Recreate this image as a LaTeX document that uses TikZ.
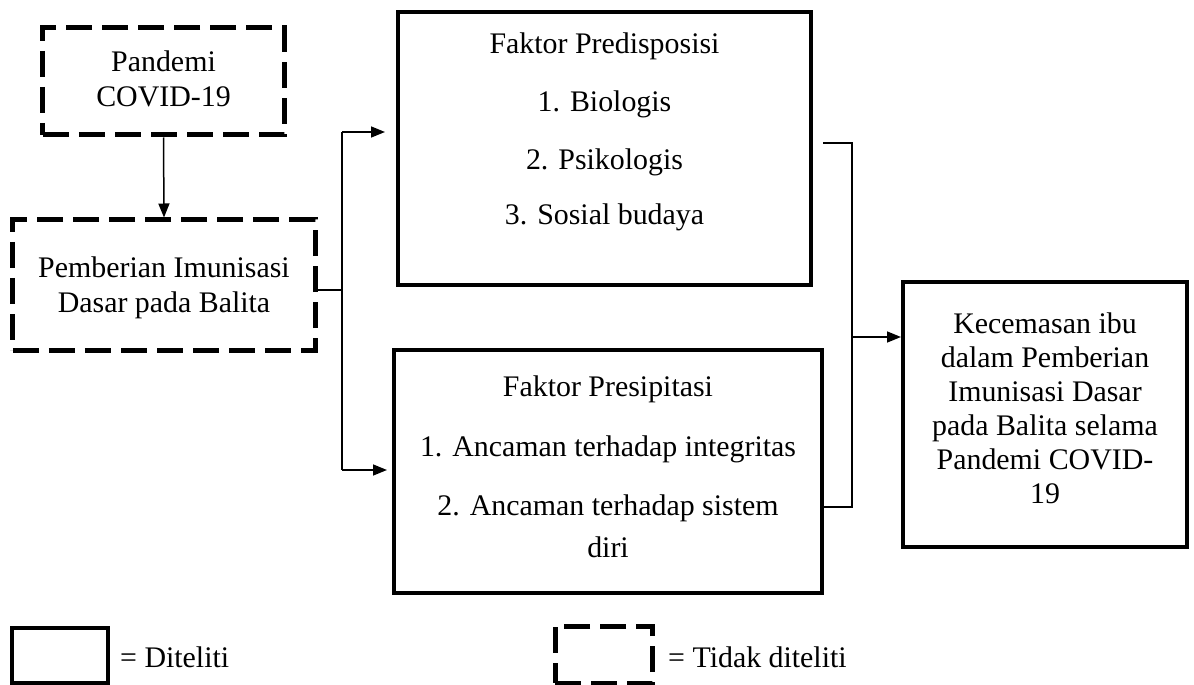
\documentclass[tikz,border=0pt]{standalone}
\usepackage{fontspec}
\setmainfont{Liberation Serif}
\usetikzlibrary{arrows.meta}
\begin{document}
\begin{tikzpicture}[x=1bp,y=-1bp,
  solidbox/.style={draw,line width=4bp,inner sep=0pt},
  dashbox/.style={draw,line width=5bp,dash pattern=on 26bp off 10bp,inner sep=0pt},
  txt/.style={font=\fontsize{30}{34}\selectfont,anchor=base,inner sep=0pt},
  conn/.style={line width=1.5bp},
  arr/.style={conn,-{Triangle[length=14bp,width=11bp]}}]
\useasboundingbox (0,0) rectangle (1194,685);
% boxes
\node[dashbox,minimum width=241bp,minimum height=107bp] (pan) at (163.5,81.5) {};
\node[dashbox,minimum width=302bp,minimum height=130bp] (pem) at (164,285) {};
\node[solidbox,minimum width=413bp,minimum height=273bp] (pre) at (604.5,148.5) {};
\node[solidbox,minimum width=428bp,minimum height=243bp] (psp) at (608,471.5) {};
\node[solidbox,minimum width=284bp,minimum height=265bp] (kec) at (1045,414.5) {};
% texts
\node[txt] (pan1) at (163.5,72) {Pandemi};
\node[txt] (pan2) at (163.5,107) {COVID-19};
\node[txt] (pem1) at (164,277) {Pemberian Imunisasi};
\node[txt] (pem2) at (164,312) {Dasar pada Balita};
\node[txt] (pre1) at (604.5,54) {Faktor Predisposisi};
\node[txt] (pre2) at (604.5,112) {1. Biologis};
\node[txt] (pre3) at (604.5,170) {2. Psikologis};
\node[txt] (pre4) at (604.5,225) {3. Sosial budaya};
\node[txt] (psp1) at (608,396) {Faktor Presipitasi};
\node[txt] (psp2) at (608,456) {1. Ancaman terhadap integritas};
\node[txt] (psp3) at (608,515) {2. Ancaman terhadap sistem};
\node[txt] (psp4) at (608,557) {diri};
\node[txt] (kec1) at (1045,333) {Kecemasan ibu};
\node[txt] (kec2) at (1045,367) {dalam Pemberian};
\node[txt] (kec3) at (1045,401) {Imunisasi Dasar};
\node[txt] (kec4) at (1045,435) {pada Balita selama};
\node[txt] (kec5) at (1045,469) {Pandemi COVID-};
\node[txt] (kec6) at (1045,503) {19};
% connectors
\draw[arr] (pan.south) -- (pem.north);
\coordinate (j1) at (342,290);
\coordinate (jt) at (342,132);
\coordinate (jb) at (342,470);
\coordinate (tt) at (385,132);
\coordinate (tb) at (387,470);
\draw[conn] (pem.east |- j1) -- (j1);
\draw[conn] (jt) -- (jb);
\draw[arr] (jt) -- (tt);
\draw[arr] (jb) -- (tb);
\coordinate (r1) at (852,143);
\coordinate (r2) at (852,507);
\coordinate (ra) at (852,337);
\draw[conn] (pre.east |- r1) ++(10,0) -- (r1) -- (r2) -- (psp.east |- r2);
\draw[arr] (ra) -- (kec.west |- ra);
% legend
\node[solidbox,minimum width=96bp,minimum height=55bp] (leg1) at (60,655.5) {};
\node[txt,anchor=base west] (leg1t) at (120,667) {= Diteliti};
\node[dashbox,minimum width=97bp,minimum height=57bp] (leg2) at (603.5,654.5) {};
\node[txt,anchor=base west] (leg2t) at (668,667) {= Tidak diteliti};
\end{tikzpicture}
\end{document}
